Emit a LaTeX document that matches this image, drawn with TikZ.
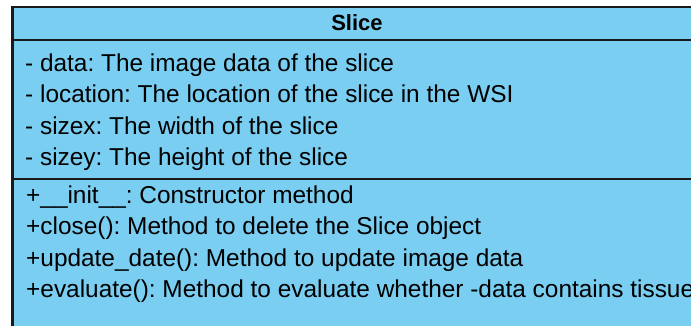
\documentclass[tikz,border=0pt]{standalone}
\usepackage{fontspec}
\setmainfont{Liberation Sans}
\usetikzlibrary{positioning}
\definecolor{classfill}{RGB}{121,206,242}
\definecolor{classline}{RGB}{25,25,25}
\frenchspacing

\begin{document}
\begin{tikzpicture}[x=1pt, y=1pt, node distance=31.3pt,
    member/.style={inner sep=0pt, anchor=base west, font=\fontsize{24.4}{28}\selectfont}]
    \useasboundingbox (0,0) rectangle (691,326);
    \clip (0,0) rectangle (691,326);

    % Clase
    \draw[classline, line width=2.6pt, fill=classfill] (12.5,319) rectangle (702,-20);
    \draw[classline, line width=2pt] (12.5,285.5) -- (702,285.5);
    \draw[classline, line width=2pt] (12.5,147) -- (702,147);
    \node[font=\bfseries\fontsize{22}{26}\selectfont] (title) at (357,303) {Slice};

    % Atributos
    \node[member] (data) at (25,254.5) {- data: The image data of the slice};
    \node[member, below=of data.base west, anchor=base west] (location) {- location: The location of the slice in the WSI};
    \node[member, below=of location.base west, anchor=base west] (sizex) {- sizex: The width of the slice};
    \node[member, below=of sizex.base west, anchor=base west] (sizey) {- sizey: The height of the slice};

    % Metodos
    \node[member] (init) at (26,122.5) {+\_\_init\_\_: Constructor method};
    \node[member, below=of init.base west, anchor=base west] (close) {+close(): Method to delete the Slice object};
    \node[member, below=of close.base west, anchor=base west] (update) {+update\_date(): Method to update image data};
    \node[member, below=of update.base west, anchor=base west] (evaluate) {+evaluate(): Method to evaluate whether -data contains tissue};
\end{tikzpicture}
\end{document}
